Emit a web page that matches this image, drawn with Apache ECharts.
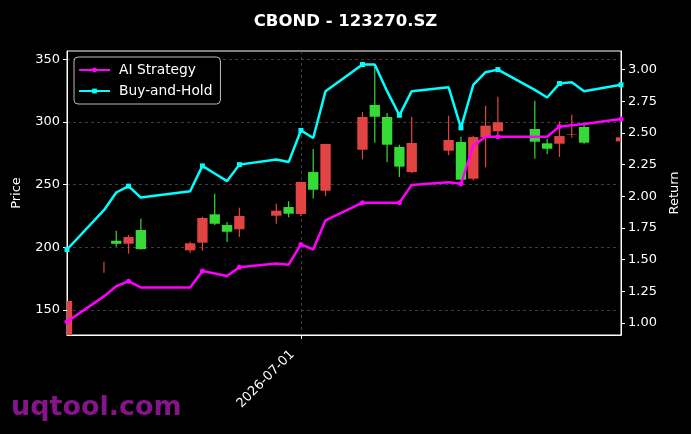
<!DOCTYPE html>
<html>
<head>
<meta charset="utf-8">
<script src="https://cdn.jsdelivr.net/npm/echarts/dist/echarts.min.js"></script>
<style>
  html, body { margin: 0; padding: 0; background: #000; }
  #main { width: 691px; height: 434px; }
</style>
</head>
<body>
<div id="main"></div>
<script>
// trading days (Jun 19 is a holiday)
var dates = ['2026-06-12','2026-06-15','2026-06-16','2026-06-17','2026-06-18','2026-06-22',
  '2026-06-23','2026-06-24','2026-06-25','2026-06-26','2026-06-29','2026-06-30',
  '2026-07-01','2026-07-02','2026-07-03','2026-07-06','2026-07-07','2026-07-08',
  '2026-07-09','2026-07-10','2026-07-13','2026-07-14','2026-07-15','2026-07-16',
  '2026-07-17','2026-07-20','2026-07-21','2026-07-22','2026-07-23','2026-07-24','2026-07-27'];

var opens  = [120.0, 184.0, 205.2, 202.9, 213.8, 197.6, 203.7, 226.3, 217.8, 214.4, 225.2, 232.1,
  226.6, 260.0, 245.1, 277.8, 313.5, 303.9, 280.0, 260.0, 277.0, 284.0, 254.7, 287.7,
  292.5, 294.3, 282.9, 282.6, 289.7, 295.9, 284.5];
var closes = [157.2, 184.0, 202.8, 208.2, 198.6, 203.2, 223.4, 218.8, 212.4, 225.0, 229.2, 226.8,
  252.1, 245.9, 282.4, 303.9, 304.1, 281.8, 264.3, 283.2, 285.6, 253.9, 287.9, 297.0,
  299.7, 284.2, 278.6, 288.7, 290.1, 283.4, 287.7];
var lows   = [118.0, 179.7, 200.6, 194.9, 198.1, 195.7, 197.3, 217.8, 204.2, 208.2, 218.8, 223.9,
  224.7, 239.0, 240.9, 270.2, 283.4, 267.8, 256.0, 259.0, 273.4, 253.7, 253.4, 263.8,
  286.4, 270.6, 274.2, 272.0, 287.4, 282.6, 284.0];
var highs  = [157.5, 188.5, 213.3, 209.8, 222.8, 204.5, 224.4, 242.7, 220.2, 231.6, 234.8, 236.7,
  252.3, 278.4, 282.6, 307.9, 346.2, 307.1, 281.8, 304.1, 304.9, 288.2, 289.0, 312.9,
  320.1, 316.9, 286.6, 300.5, 305.8, 297.5, 288.0];

var aiReturn = [1.01, 1.21, 1.29, 1.33, 1.28, 1.28, 1.41, 1.39, 1.37, 1.44, 1.47, 1.46,
  1.62, 1.58, 1.81, 1.95, 1.95, 1.95, 1.95, 2.09, 2.11, 2.10, 2.40, 2.47,
  2.47, 2.47, 2.47, 2.55, 2.56, 2.57, 2.61];
var bhReturn = [1.58, 1.89, 2.03, 2.08, 1.99, 2.04, 2.24, 2.18, 2.12, 2.25, 2.29, 2.27,
  2.52, 2.46, 2.83, 3.04, 3.04, 2.83, 2.64, 2.83, 2.86, 2.54, 2.88, 2.98,
  3.00, 2.84, 2.78, 2.89, 2.90, 2.83, 2.88];

var priceTicks = [150, 200, 250, 300, 350];
var returnTicks = [1.00, 1.25, 1.50, 1.75, 2.00, 2.25, 2.50, 2.75, 3.00];
var dateTicks = ['2026-07-01'];

var FONT = 'DejaVu Sans';
var UP = '#E24444', DOWN = '#36DA36';
var DAY = 86400000;
function ts(d) { return Date.parse(d + 'T00:00:00Z'); }
var candleData = dates.map(function (d, i) {
  return [ts(d), opens[i], closes[i], lows[i], highs[i]];
});
function pairs(arr) {
  return dates.map(function (d, i) { return [ts(d), arr[i]]; });
}
function marked(v, p) { return p.dataIndex % 3 === 0 ? 5 : 0; }

// candle = wick line + body rect, placed with the axis scales
function renderCandle(params, api) {
  var x = api.value(0);
  var o = api.coord([x, api.value(1)]);
  var c = api.coord([x, api.value(2)]);
  var lo = api.coord([x, api.value(3)]);
  var hi = api.coord([x, api.value(4)]);
  var w = api.size([DAY * 0.84, 0])[0];
  var col = api.value(2) >= api.value(1) ? UP : DOWN;
  return {
    type: 'group',
    children: [{
      type: 'line',
      shape: { x1: o[0], y1: hi[1], x2: o[0], y2: lo[1] },
      style: { stroke: col, lineWidth: 1.2 }
    }, {
      type: 'rect',
      shape: { x: o[0] - w / 2, y: Math.min(o[1], c[1]), width: w, height: Math.abs(o[1] - c[1]) },
      style: { fill: col }
    }]
  };
}

var chart = echarts.init(document.getElementById('main'));
chart.setOption({
  backgroundColor: '#000',
  animation: false,
  title: {
    text: 'CBOND - 123270.SZ',
    left: 'center',
    top: 8,
    textStyle: { color: '#fff', fontFamily: FONT, fontWeight: 'bold', fontSize: 16.5 }
  },
  legend: {
    orient: 'vertical',
    left: 74,
    top: 57,
    padding: [6, 8, 6, 4],
    itemGap: 7,
    itemWidth: 31,
    itemHeight: 6,
    borderColor: '#bbb',
    borderWidth: 1,
    borderRadius: 4,
    backgroundColor: '#000',
    textStyle: { color: '#fff', fontFamily: FONT, fontSize: 13.8, padding: [0, 0, 0, 4] },
    data: ['AI Strategy', 'Buy-and-Hold']
  },
  grid: {
    left: 67, right: 70, top: 51, bottom: 99,
    show: true, borderColor: '#fff', borderWidth: 1
  },
  xAxis: {
    type: 'value',
    min: ts(dates[0]),
    max: ts(dates[dates.length - 1]),
    axisLine: { lineStyle: { color: '#fff' } },
    axisTick: { show: true, length: 4, lineStyle: { color: '#fff' }, customValues: dateTicks.map(ts) },
    axisLabel: {
      customValues: dateTicks.map(ts),
      rotate: 45,
      color: '#fff',
      fontFamily: FONT,
      fontSize: 13,
      margin: 9,
      padding: [0, 12, 0, 0],
      formatter: function (v) { return new Date(v).toISOString().slice(0, 10); }
    },
    splitLine: { show: true, lineStyle: { color: '#555', type: [3, 3], width: 0.7 } }
  },
  yAxis: [{
    type: 'value',
    min: 130.1,
    max: 356.5,
    name: 'Price',
    nameLocation: 'middle',
    nameRotate: 90,
    nameGap: 44,
    nameTextStyle: { color: '#fff', fontFamily: FONT, fontSize: 13 },
    axisLine: { show: true, lineStyle: { color: '#fff' } },
    axisTick: { show: true, length: 4, lineStyle: { color: '#fff' }, customValues: priceTicks },
    axisLabel: { customValues: priceTicks, color: '#fff', fontFamily: FONT, fontSize: 13, margin: 7 },
    splitLine: { show: true, lineStyle: { color: '#555', type: [3, 3], width: 0.7 } }
  }, {
    type: 'value',
    min: 0.905,
    max: 3.147,
    position: 'right',
    name: 'Return',
    nameLocation: 'middle',
    nameRotate: 90,
    nameGap: 46,
    nameTextStyle: { color: '#fff', fontFamily: FONT, fontSize: 13 },
    axisLine: { show: true, lineStyle: { color: '#fff' } },
    axisTick: { show: true, length: 4, lineStyle: { color: '#fff' }, customValues: returnTicks },
    axisLabel: {
      customValues: returnTicks, color: '#fff', fontFamily: FONT, fontSize: 13, margin: 7,
      formatter: function (v) { return v.toFixed(2); }
    },
    splitLine: { show: false }
  }],
  series: [{
    name: 'Price',
    type: 'custom',
    data: candleData,
    encode: { x: 0, y: [1, 2, 3, 4] },
    renderItem: renderCandle,
    clip: true
  }, {
    name: 'AI Strategy',
    type: 'line',
    yAxisIndex: 1,
    data: pairs(aiReturn),
    symbol: 'circle',
    symbolSize: marked,
    showAllSymbol: true,
    lineStyle: { color: '#FF00FF', width: 2.5 },
    itemStyle: { color: '#FF00FF' }
  }, {
    name: 'Buy-and-Hold',
    type: 'line',
    yAxisIndex: 1,
    data: pairs(bhReturn),
    symbol: 'rect',
    symbolSize: marked,
    showAllSymbol: true,
    lineStyle: { color: '#00FFFF', width: 2.5 },
    itemStyle: { color: '#00FFFF' }
  }],
  graphic: [{
    type: 'text',
    left: 11,
    top: 394,
    style: { text: 'uqtool.com', fill: '#86148A', font: 'bold 27px "DejaVu Sans"' }
  }]
});
</script>
</body>
</html>
